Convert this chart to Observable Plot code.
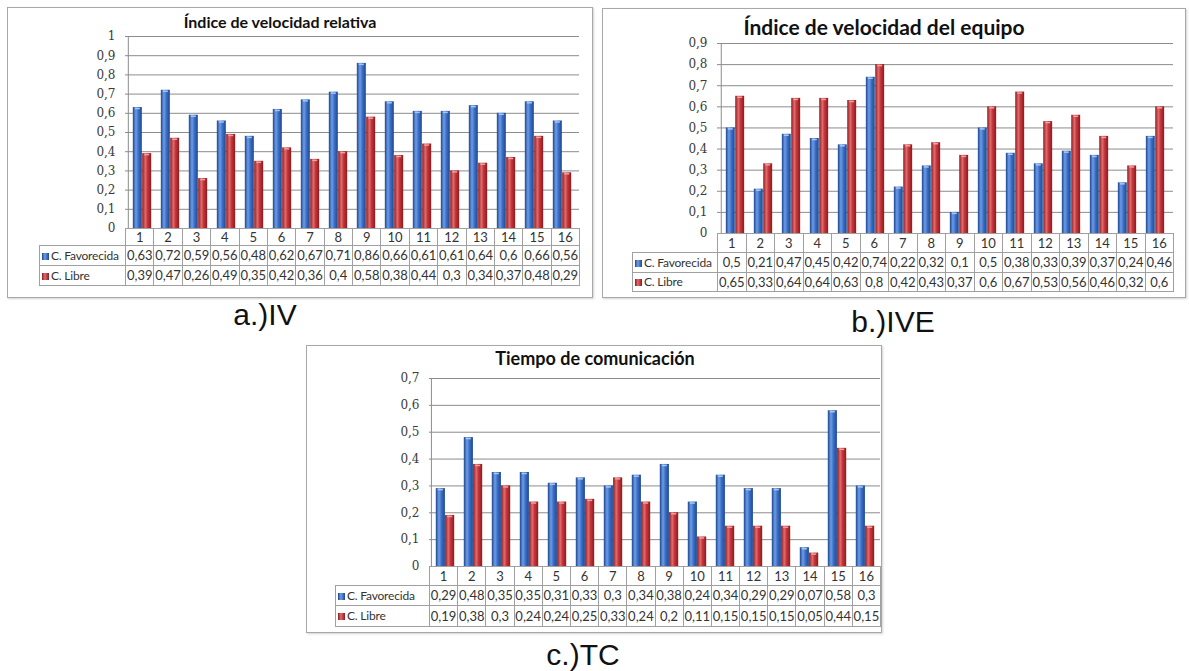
<!DOCTYPE html>
<html><head><meta charset="utf-8">
<script src="https://cdn.jsdelivr.net/npm/d3@7"></script>
<script src="https://cdn.jsdelivr.net/npm/@observablehq/plot@0.6"></script>
<style>
body{margin:0;background:#fff;width:1189px;height:671px;position:relative;overflow:hidden;font-family:Lato,sans-serif}
.panel{position:absolute;border:1.5px solid #a8a8a8;box-sizing:border-box;box-shadow:1px 1px 2px rgba(0,0,0,0.18);background:#fff}
.title{position:absolute;font-weight:bold;color:#111;white-space:nowrap;transform:translate(-50%,-50%);font-family:Lato,sans-serif}
.plot{position:absolute}
table.dt{position:absolute;border-collapse:collapse;table-layout:fixed;font-size:13px;color:#333;font-family:Lato,sans-serif}
table.dt td{border:1px solid #a0a0a0;text-align:center;padding:0;white-space:nowrap;overflow:hidden;line-height:1}
table.dt td.lab{text-align:left;padding-left:2px;font-size:12px;letter-spacing:-0.2px}
table.dt td.blank{border:none}
.sw{display:inline-block;width:7px;height:7px;margin-right:2px;vertical-align:0px}
.cap{position:absolute;font-family:"Liberation Sans",Arial,sans-serif;font-size:30px;line-height:30px;color:#111;transform:translateX(-50%);white-space:nowrap}
</style></head><body>
<svg width="0" height="0" style="position:absolute"><defs>
<linearGradient id="gBlue" x1="0" x2="1" y1="0" y2="0">
<stop offset="0" stop-color="#1c468e"/><stop offset="0.35" stop-color="#6e9de6"/><stop offset="0.6" stop-color="#3d70c8"/><stop offset="1" stop-color="#1d4890"/>
</linearGradient>
<linearGradient id="gRed" x1="0" x2="1" y1="0" y2="0">
<stop offset="0" stop-color="#8a1a1e"/><stop offset="0.35" stop-color="#e26a6c"/><stop offset="0.6" stop-color="#c2353b"/><stop offset="1" stop-color="#8c1b1f"/>
</linearGradient>
</defs></svg>
<script>
// ---- data ----
const categories = ["1","2","3","4","5","6","7","8","9","10","11","12","13","14","15","16"];
const seriesNames = ["C. Favorecida", "C. Libre"];
const titles = ["Índice de velocidad relativa", "Índice de velocidad del equipo", "Tiempo de comunicación"];
const captions = ["a.)IV", "b.)IVE", "c.)TC"];

const ivFavorecida = [0.63,0.72,0.59,0.56,0.48,0.62,0.67,0.71,0.86,0.66,0.61,0.61,0.64,0.6,0.66,0.56];
const ivLibre      = [0.39,0.47,0.26,0.49,0.35,0.42,0.36,0.4,0.58,0.38,0.44,0.3,0.34,0.37,0.48,0.29];
const iveFavorecida = [0.5,0.21,0.47,0.45,0.42,0.74,0.22,0.32,0.1,0.5,0.38,0.33,0.39,0.37,0.24,0.46];
const iveLibre      = [0.65,0.33,0.64,0.64,0.63,0.8,0.42,0.43,0.37,0.6,0.67,0.53,0.56,0.46,0.32,0.6];
const tcFavorecida = [0.29,0.48,0.35,0.35,0.31,0.33,0.3,0.34,0.38,0.24,0.34,0.29,0.29,0.07,0.58,0.3];
const tcLibre      = [0.19,0.38,0.3,0.24,0.24,0.25,0.33,0.24,0.2,0.11,0.15,0.15,0.15,0.05,0.44,0.15];

const ivTicks  = [0,0.1,0.2,0.3,0.4,0.5,0.6,0.7,0.8,0.9,1];
const iveTicks = [0,0.1,0.2,0.3,0.4,0.5,0.6,0.7,0.8,0.9];
const tcTicks  = [0,0.1,0.2,0.3,0.4,0.5,0.6,0.7];

// ---- layout (page pixels) ----
const layouts = [
  {box:[7,7,593,298], titleX:280, titleY:21, titleSize:16, plotLeft:125, plotRight:579, topY:36, zeroY:228, labelLeft:39, rows:[17,20,20], capX:265, capY:300, tickFont:12},
  {box:[602,8,1186,298], titleX:884, titleY:26, titleSize:21, plotLeft:717, plotRight:1173, topY:43, zeroY:233, labelLeft:632, rows:[19,20,19], capX:893, capY:307, tickFont:12},
  {box:[306,345,882,633], titleX:595, titleY:358, titleSize:18, plotLeft:429, plotRight:880, topY:378, zeroY:566, labelLeft:335, rows:[19,20,21], capX:583, capY:640, tickFont:12}
];

const fmt = d => String(d).replace(".", ",");
const swatch = ["linear-gradient(to right,#1c468e,#6e9de6 40%,#1d4890)", "linear-gradient(to right,#8a1a1e,#e26a6c 40%,#8c1b1f)"];

function drawPanel(cfg, fav, lib, ticks, title, caption) {
  const [x0,y0,x1,y1] = cfg.box;
  const panel = document.createElement("div");
  panel.className = "panel";
  Object.assign(panel.style, {left:x0+"px", top:y0+"px", width:(x1-x0)+"px", height:(y1-y0)+"px"});
  document.body.appendChild(panel);

  const t = document.createElement("div");
  t.className = "title"; t.textContent = title;
  Object.assign(t.style, {left:cfg.titleX+"px", top:cfg.titleY+"px", fontSize:cfg.titleSize+"px"});
  document.body.appendChild(t);

  const mL = 45, mR = 1, mT = 6, mB = 1;
  const width = cfg.plotRight - cfg.plotLeft + mL + mR;
  const height = cfg.zeroY - cfg.topY + mT + mB;
  const bw = (cfg.plotRight - cfg.plotLeft) / categories.length;
  const barW = bw * 0.33, pad = (bw - 2 * barW) / 2;
  const rowsA = categories.map((c, i) => ({cat:c, series:seriesNames[0], value:fav[i]}));
  const rowsB = categories.map((c, i) => ({cat:c, series:seriesNames[1], value:lib[i]}));

  const svg = Plot.plot({
    width, height, marginLeft:mL, marginRight:mR, marginTop:mT, marginBottom:mB,
    x:{type:"band", domain:categories, padding:0, axis:null},
    y:{domain:[0, ticks[ticks.length-1]], ticks, tickFormat:fmt, tickSize:0, tickPadding:10, label:null},
    style:{fontFamily:"'DejaVu Serif', serif", fontSize:cfg.tickFont+"px", color:"#3a3a3a", background:"transparent", overflow:"visible"},
    marks:[
      Plot.ruleY(ticks, {stroke:"#8c8c8c", strokeWidth:1}),
      Plot.ruleX([categories[0]], {dx:-bw/2, stroke:"#8c8c8c"}),
      Plot.barY(rowsA, {x:"cat", y:"value", fill:"url(#gBlue)", insetLeft:pad, insetRight:pad+barW}),
      Plot.barY(rowsB, {x:"cat", y:"value", fill:"url(#gRed)", insetLeft:pad+barW, insetRight:pad}),
      Plot.tickY(rowsA, {x:"cat", y:"value", stroke:"#a9c6f2", strokeWidth:1.5, dy:1, insetLeft:pad+2, insetRight:pad+barW+2}),
      Plot.tickY(rowsB, {x:"cat", y:"value", stroke:"#f0a0a0", strokeWidth:1.5, dy:1, insetLeft:pad+barW+2, insetRight:pad+2})
    ]
  });
  const wrap = document.createElement("div");
  wrap.className = "plot";
  Object.assign(wrap.style, {left:(cfg.plotLeft - mL)+"px", top:(cfg.topY - mT)+"px"});
  wrap.appendChild(svg);
  document.body.appendChild(wrap);

  // data table
  const tbl = document.createElement("table");
  tbl.className = "dt";
  const labW = cfg.plotLeft - cfg.labelLeft;
  Object.assign(tbl.style, {left:cfg.labelLeft+"px", top:cfg.zeroY+"px", width:(cfg.plotRight - cfg.labelLeft)+"px"});
  const cg = document.createElement("colgroup");
  const c0 = document.createElement("col"); c0.style.width = labW+"px"; cg.appendChild(c0);
  categories.forEach(() => { const c = document.createElement("col"); c.style.width = bw+"px"; cg.appendChild(c); });
  tbl.appendChild(cg);
  const hr = document.createElement("tr"); hr.style.height = cfg.rows[0]+"px";
  const hb = document.createElement("td"); hb.className = "blank"; hr.appendChild(hb);
  categories.forEach(c => { const td = document.createElement("td"); td.textContent = c; hr.appendChild(td); });
  tbl.appendChild(hr);
  [fav, lib].forEach((vals, si) => {
    const tr = document.createElement("tr"); tr.style.height = cfg.rows[si+1]+"px";
    const lab = document.createElement("td"); lab.className = "lab";
    const sw = document.createElement("span"); sw.className = "sw"; sw.style.background = swatch[si];
    lab.appendChild(sw); lab.appendChild(document.createTextNode(seriesNames[si]));
    tr.appendChild(lab);
    vals.forEach(v => { const td = document.createElement("td"); td.textContent = fmt(v); tr.appendChild(td); });
    tbl.appendChild(tr);
  });
  document.body.appendChild(tbl);

  const cap = document.createElement("div");
  cap.className = "cap"; cap.textContent = caption;
  Object.assign(cap.style, {left:cfg.capX+"px", top:cfg.capY+"px"});
  document.body.appendChild(cap);
}

drawPanel(layouts[0], ivFavorecida, ivLibre, ivTicks, titles[0], captions[0]);
drawPanel(layouts[1], iveFavorecida, iveLibre, iveTicks, titles[1], captions[1]);
drawPanel(layouts[2], tcFavorecida, tcLibre, tcTicks, titles[2], captions[2]);
</script>
</body></html>
